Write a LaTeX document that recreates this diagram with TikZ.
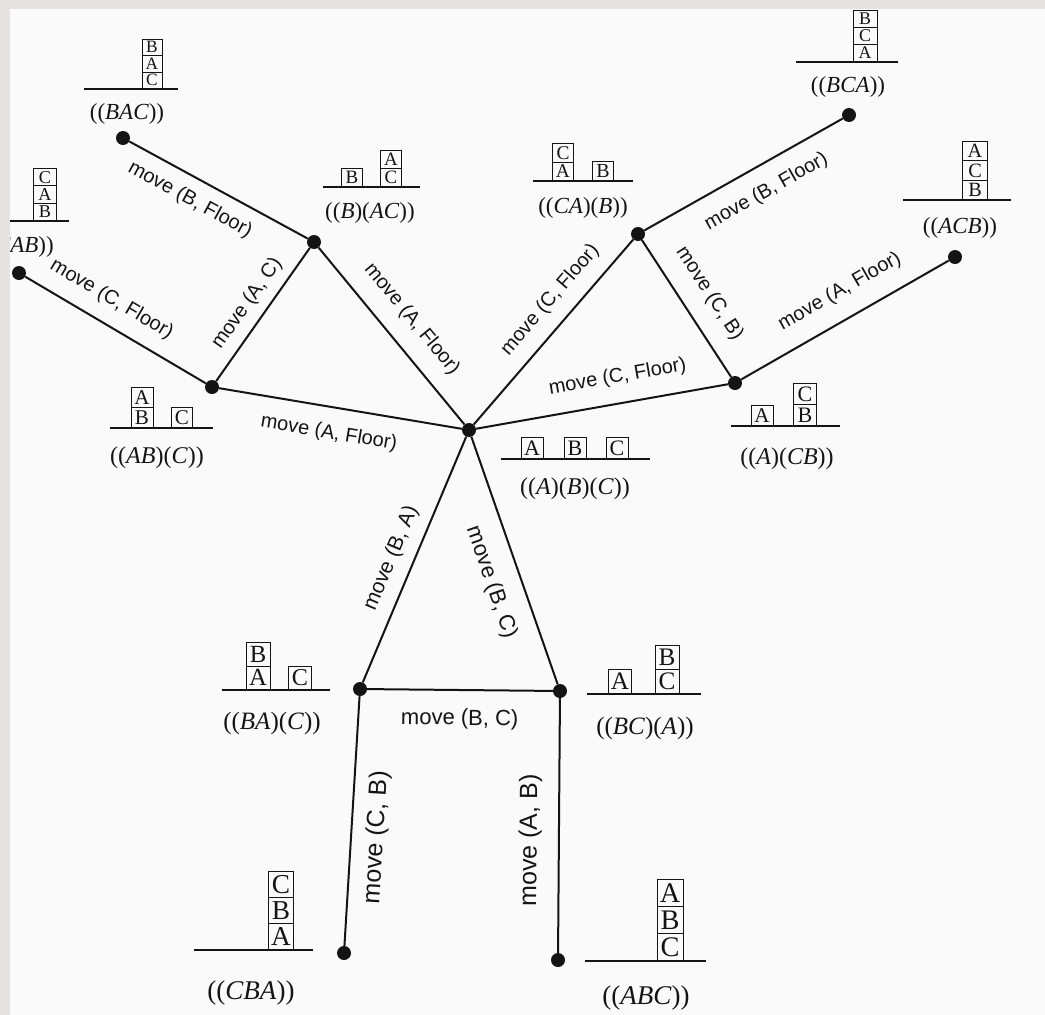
\documentclass[tikz,border=0pt]{standalone}
\usepackage{fontspec}
\setmainfont{Liberation Serif}
\newfontfamily\movefont{Liberation Sans}

\definecolor{paper}{HTML}{FAFAFA}
\definecolor{scanframe}{HTML}{E5E4E1}
\definecolor{ink}{HTML}{141414}

% a column of blocks on the table: name, x, table y, box width, box height, letters bottom-up
\newcommand{\blockcol}[6]{%
  \pgfmathsetmacro{\blkfs}{#5*1.05}%
  \foreach \l [count=\i] in {#6}
    \node[blk, minimum width=#4pt, minimum height=#5pt,
          font=\fontsize{\blkfs}{\blkfs}\selectfont]
      (#1-\i) at ({#2},{#3-#5*(\i-1)}) {\l};%
}

\begin{document}
\begin{tikzpicture}[x=1pt, y=-1pt,
    dot/.style={circle, fill=ink, inner sep=0pt, minimum size=14pt},
    edge/.style={ink, line width=2pt},
    tbl/.style={ink, line width=1.9pt},
    blk/.style={draw=ink, line width=1pt, inner sep=0pt, anchor=south, text=ink},
    st/.style={text=ink, inner sep=1pt, font=\fontsize{#1}{#1}\selectfont},
    st/.default=23,
    mv/.style={text=ink, inner sep=1pt, sloped, font=\movefont\fontsize{#1}{#1}\selectfont},
    mv/.default=20]

    \useasboundingbox (0,0) rectangle (1045,1015);
    \clip (0,0) rectangle (1045,1015);
    \fill[paper] (0,0) rectangle (1045,1015);

    % 1. States (dots)
    \node[dot] (s-a-b-c) at (469,430) {};
    \node[dot] (s-b-ac)  at (314,242) {};
    \node[dot] (s-bac)   at (123,138) {};
    \node[dot] (s-ab-c)  at (212,387) {};
    \node[dot] (s-cab)   at (19,273) {};
    \node[dot] (s-ca-b)  at (638,234) {};
    \node[dot] (s-bca)   at (849,115) {};
    \node[dot] (s-a-cb)  at (735,383) {};
    \node[dot] (s-acb)   at (955,257) {};
    \node[dot] (s-ba-c)  at (360,689) {};
    \node[dot] (s-bc-a)  at (560,691) {};
    \node[dot] (s-cba)   at (344,953) {};
    \node[dot] (s-abc)   at (558,960) {};

    % 2. Moves between states
    \draw[edge] (s-bac) -- (s-b-ac) node[mv, pos=0.4, below=11pt] (m1) {move (B, Floor)};
    \draw[edge] (s-ab-c) -- (s-b-ac) node[mv, midway, above=8pt] (m2) {move (A, C)};
    \draw[edge] (s-b-ac) -- (s-a-b-c) node[mv, midway, above=15pt] (m3) {move (A, Floor)};
    \draw[edge] (s-cab) -- (s-ab-c) node[mv, pos=0.41, above=13pt] (m4) {move (C, Floor)};
    \draw[edge] (s-ab-c) -- (s-a-b-c) node[mv, pos=0.47, below=15pt] (m5) {move (A, Floor)};
    \draw[edge] (s-a-b-c) -- (s-ca-b) node[mv, pos=0.59, above=12pt] (m6) {move (C, Floor)};
    \draw[edge] (s-ca-b) -- (s-bca) node[mv, pos=0.55, below=15pt] (m7) {move (B, Floor)};
    \draw[edge] (s-ca-b) -- (s-a-cb) node[mv, midway, above=16pt] (m8) {move (C, B)};
    \draw[edge] (s-a-cb) -- (s-acb) node[mv, pos=0.54, above=16pt] (m9) {move (A, Floor)};
    \draw[edge] (s-a-b-c) -- (s-a-cb) node[mv, pos=0.58, above=15pt] (m10) {move (C, Floor)};
    \draw[edge] (s-ba-c) -- (s-a-b-c) node[mv=21, pos=0.47, above=10pt] (m11) {move (B, A)};
    \draw[edge] (s-a-b-c) -- (s-bc-a) node[mv=22, pos=0.55, below=17pt] (m12) {move (B, C)};
    \draw[edge] (s-ba-c) -- (s-bc-a) node[mv=22, midway, below=17pt] (m13) {move (B, C)};
    \draw[edge] (s-cba) -- (s-ba-c) node[mv=25, pos=0.44, below=12pt] (m14) {move (C, B)};
    \draw[edge] (s-abc) -- (s-bc-a) node[mv=25, pos=0.44, above=15pt] (m15) {move (A, B)};

    % 3. Block pictures and state names
    % ((BAC))
    \draw[tbl] (84,89) -- (178,89);
    \blockcol{bac}{152}{89}{20}{16.5}{C,A,B}
    \node[st] (l-bac) at (127,114) {((\textit{BAC}))};
    % ((CAB))
    \draw[tbl] (8,221) -- (69,221);
    \blockcol{cab}{45}{221}{23}{17.3}{B,A,C}
    \node[st, anchor=east] (l-cab) at (55,247) {((\textit{CAB}))};
    % ((B)(AC))
    \draw[tbl] (323,187) -- (420,187);
    \blockcol{b-ac1}{352}{187}{21}{18}{B}
    \blockcol{b-ac2}{391}{187}{21}{18}{C,A}
    \node[st] (l-b-ac) at (370,213) {((\textit{B})(\textit{AC}))};
    % ((CA)(B))
    \draw[tbl] (533,181) -- (633,181);
    \blockcol{ca-b1}{563}{181}{21}{18.5}{A,C}
    \blockcol{ca-b2}{603}{181}{21}{19}{B}
    \node[st] (l-ca-b) at (583,208) {((\textit{CA})(\textit{B}))};
    % ((BCA))
    \draw[tbl] (796,62) -- (898,62);
    \blockcol{bca}{865}{62}{24}{17}{A,C,B}
    \node[st] (l-bca) at (848,87) {((\textit{BCA}))};
    % ((ACB))
    \draw[tbl] (903,200) -- (1011,200);
    \blockcol{acb}{975}{200}{25}{19.3}{B,C,A}
    \node[st] (l-acb) at (960,228) {((\textit{ACB}))};
    % ((AB)(C))
    \draw[tbl] (110,428) -- (213,428);
    \blockcol{ab-c1}{142}{428}{22}{20}{B,A}
    \blockcol{ab-c2}{182}{428}{21}{20}{C}
    \node[st=24] (l-ab-c) at (157,458) {((\textit{AB})(\textit{C}))};
    % ((A)(B)(C))
    \draw[tbl] (501,459) -- (650,459);
    \blockcol{a-b-c1}{532}{459}{22}{21}{A}
    \blockcol{a-b-c2}{575}{459}{22}{21}{B}
    \blockcol{a-b-c3}{617}{459}{22}{21}{C}
    \node[st=24] (l-a-b-c) at (575,489) {((\textit{A})(\textit{B})(\textit{C}))};
    % ((A)(CB))
    \draw[tbl] (731,426) -- (840,426);
    \blockcol{a-cb1}{762}{426}{22}{20}{A}
    \blockcol{a-cb2}{805}{426}{23}{21}{B,C}
    \node[st=24] (l-a-cb) at (787,459) {((\textit{A})(\textit{CB}))};
    % ((BA)(C))
    \draw[tbl] (222,690) -- (330,690);
    \blockcol{ba-c1}{258}{690}{24}{23.5}{A,B}
    \blockcol{ba-c2}{300}{690}{23}{23}{C}
    \node[st=25] (l-ba-c) at (272,723) {((\textit{BA})(\textit{C}))};
    % ((BC)(A))
    \draw[tbl] (587,694) -- (701,694);
    \blockcol{bc-a1}{620}{694}{23}{24}{A}
    \blockcol{bc-a2}{667}{694}{24}{24}{C,B}
    \node[st=25] (l-bc-a) at (645,728) {((\textit{BC})(\textit{A}))};
    % ((CBA))
    \draw[tbl] (194,950) -- (313,950);
    \blockcol{cba}{281}{950}{25}{26}{A,B,C}
    \node[st=27] (l-cba) at (251,993) {((\textit{CBA}))};
    % ((ABC))
    \draw[tbl] (585,961) -- (706,961);
    \blockcol{abc}{670}{961}{26}{27}{C,B,A}
    \node[st=27] (l-abc) at (646,998) {((\textit{ABC}))};

    % 4. Scan border
    \fill[scanframe] (0,0) rectangle (10,1015);
    \fill[scanframe] (0,0) rectangle (1045,9);
\end{tikzpicture}
\end{document}
